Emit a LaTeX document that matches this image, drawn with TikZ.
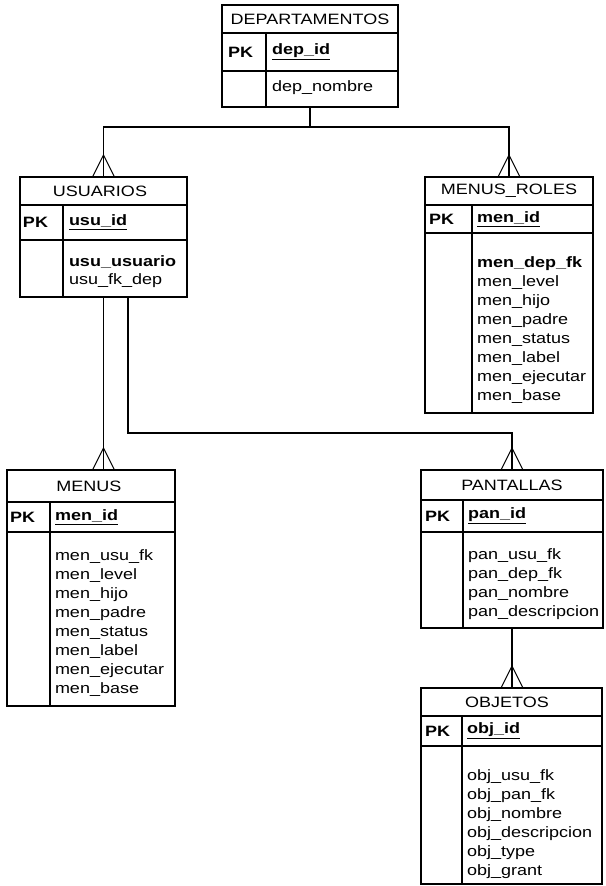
\documentclass[tikz,border=0pt]{standalone}
\usepackage{fontspec}
\setmainfont{Liberation Sans}[FakeStretch=1.2]
\newcommand\ertable[8]{%
  \node[tbl, anchor=north west, minimum width={(#4)-(#2)}, minimum height={(#8)-(#5)}] (#1) at (#2,#5) {};
  \draw[rowline] (#2,#6) -- (#4,#6);
  \draw[rowline] (#2,#7) -- (#4,#7);
  \draw[rowline] (#3,#6) -- (#3,#8);}
\newcommand\crowfoot[1]{%
  \draw[crow] ([yshift=22pt]#1) -- ([xshift=-11pt]#1);
  \draw[crow] ([yshift=22pt]#1) -- ([xshift=11pt]#1);}
\begin{document}
\begin{tikzpicture}[x=1pt,y=-1pt,
  every node/.style={inner sep=0pt, outer sep=0pt, font=\fontsize{15}{19}\selectfont},
  tbl/.style={draw, line width=1.3pt},
  rowline/.style={line width=1.1pt},
  pkl/.style={anchor=west, font=\fontsize{15}{19}\selectfont\bfseries},
  keyf/.style={anchor=west, font=\fontsize{15}{19}\selectfont\bfseries},
  fld/.style={anchor=west},
  conn/.style={line width=1.3pt},
  crow/.style={line width=1pt}]
\useasboundingbox (0,0) rectangle (605,886);
\fill[white] (0,0) rectangle (605,886);
% tables
\ertable{dep}{222}{266}{398}{5}{33}{71}{107}
\ertable{usu}{20}{63}{187}{177}{205}{240}{297}
\ertable{mro}{425}{472}{593}{177}{205}{233}{413}
\ertable{men}{7}{50}{175}{470}{502}{532}{706}
\ertable{pan}{421}{463}{603}{470}{500}{532}{628}
\ertable{obj}{421}{462}{602}{688}{716}{746}{884}
% headers
\node (depT) at (310,19) {DEPARTAMENTOS};
\node (usuT) at (100,191) {USUARIOS};
\node (mroT) at (509,191) {MENUS\_ROLES};
\node (menT) at (89,486) {MENUS};
\node (panT) at (512,485) {PANTALLAS};
\node (objT) at (507,702) {OBJETOS};
% primary keys
\node[pkl] (depP) at (228,52) {PK};  \node[keyf] (depK) at (272,52) {\underline{dep\_id}};
\node[pkl] (usuP) at (23,222) {PK};  \node[keyf] (usuK) at (69,222) {\underline{usu\_id}};
\node[pkl] (mroP) at (429,219) {PK}; \node[keyf] (mroK) at (477,219) {\underline{men\_id}};
\node[pkl] (menP) at (10,517) {PK};  \node[keyf] (menK) at (55,517) {\underline{men\_id}};
\node[pkl] (panP) at (425,516) {PK}; \node[keyf] (panK) at (468,516) {\underline{pan\_id}};
\node[pkl] (objP) at (425,731) {PK}; \node[keyf] (objK) at (467,731) {\underline{obj\_id}};
% fields
\node[fld] (depF) at (272,88) {dep\_nombre};
\node[fld] (usuF1) at (69,262) {\textbf{usu\_usuario}};
\node[fld] (usuF2) at (69,281) {usu\_fk\_dep};
\foreach \t [count=\i from 0] in {{\textbf{men\_dep\_fk}}, men\_level, men\_hijo, men\_padre, men\_status, men\_label, men\_ejecutar, men\_base}
  \node[fld] (mroF\i) at (477,264+19*\i) {\t};
\foreach \t [count=\i from 0] in {men\_usu\_fk, men\_level, men\_hijo, men\_padre, men\_status, men\_label, men\_ejecutar, men\_base}
  \node[fld] (menF\i) at (55,557+19*\i) {\t};
\foreach \t [count=\i from 0] in {pan\_usu\_fk, pan\_dep\_fk, pan\_nombre, pan\_descripcion}
  \node[fld] (panF\i) at (468,556+19*\i) {\t};
\foreach \t [count=\i from 0] in {obj\_usu\_fk, obj\_pan\_fk, obj\_nombre, obj\_descripcion, obj\_type, obj\_grant}
  \node[fld] (objF\i) at (467,777+19*\i) {\t};
% connectors
\coordinate (hub) at (310,127);
\coordinate (bend) at (128,433);
\coordinate (menTop) at (usu.south |- men.north);
\coordinate (objTop) at (pan.south |- obj.north);
\draw[conn] (dep.south) -- (hub);
\draw[conn] (usu.north) |- (hub) -| (mro.north);
\draw[conn] (usu.south) -- (menTop);
\draw[conn] ([xshift=24.5pt]usu.south) -- (bend) -| (pan.north);
\draw[conn] (pan.south) -- (objTop);
\crowfoot{usu.north}
\crowfoot{mro.north}
\crowfoot{menTop}
\crowfoot{pan.north}
\crowfoot{objTop}
\end{tikzpicture}
\end{document}
